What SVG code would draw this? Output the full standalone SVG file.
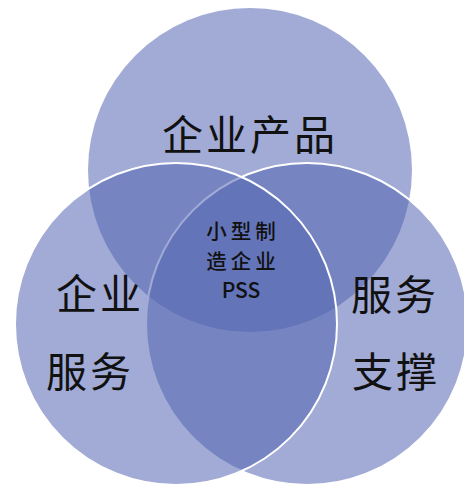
<svg xmlns="http://www.w3.org/2000/svg" width="464" height="487" viewBox="0 0 464 487">
  <style>
    .c { fill: #5466B3; fill-opacity: 0.55; }
    .s { stroke: #ffffff; stroke-width: 2; }
    .big { font-family: "Noto Sans CJK SC", "Noto Sans", sans-serif; font-size: 41px; fill: #111111; text-anchor: middle; letter-spacing: 3px; }
    .mid { font-family: "Noto Sans CJK SC", "Noto Sans", sans-serif; font-size: 20.5px; font-weight: 500; fill: #111111; text-anchor: middle; letter-spacing: 4px; }
    .pss { letter-spacing: 0px; font-size: 21px; }
  </style>
  <rect width="464" height="487" fill="#ffffff"/>
  <g id="node-product">
    <circle class="c" cx="250" cy="170" r="162"/>
  </g>
  <g id="node-support">
    <circle class="c s" cx="307" cy="324" r="161"/>
  </g>
  <g id="node-service">
    <circle class="c s" cx="176" cy="324" r="161"/>
  </g>
  <g id="connectors"></g>
  <g id="labels">
    <text class="big" x="250" y="150">企业产品</text>
    <text class="big" x="100" y="309">企业</text>
    <text class="big" x="90" y="387">服务</text>
    <text class="big" x="395" y="310">服务</text>
    <text class="big" x="396" y="387">支撑</text>
    <text class="mid" x="243" y="239">小型制</text>
    <text class="mid" x="243" y="269">造企业</text>
    <text class="mid pss" x="241" y="298">PSS</text>
  </g>
</svg>
